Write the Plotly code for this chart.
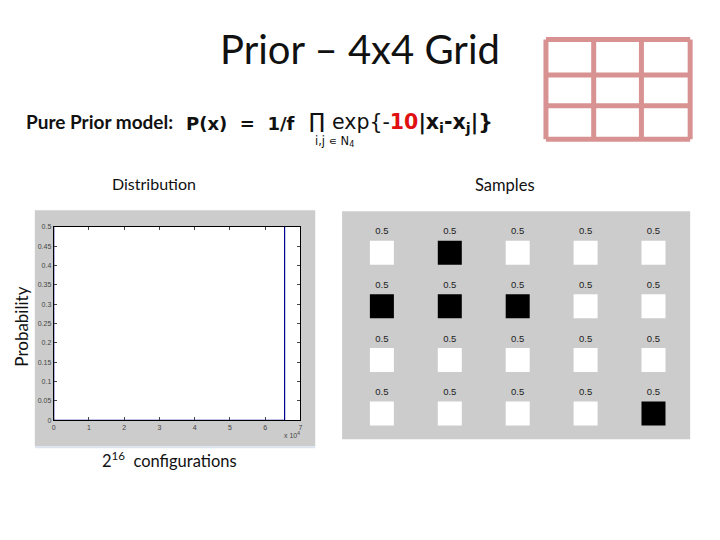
import plotly.graph_objects as go

# ---- data ----
config_index = [1, 2, 65535, 65536]          # configuration index (2^16 configs)
probability = [0.5, 0.0, 0.0, 0.5]           # probability of each configuration
x_tick_vals = [0, 10000, 20000, 30000, 40000, 50000, 60000, 70000]
x_tick_text = ["0", "1", "2", "3", "4", "5", "6", "7"]
y_tick_vals = [0, 0.05, 0.1, 0.15, 0.2, 0.25, 0.3, 0.35, 0.4, 0.45, 0.5]
y_tick_text = ["0", "0.05", "0.1", "0.15", "0.2", "0.25", "0.3", "0.35", "0.4", "0.45", "0.5"]

sample_rows = [1, 1, 1, 1, 1, 2, 2, 2, 2, 2, 3, 3, 3, 3, 3, 4, 4, 4, 4, 4]
sample_cols = [1, 2, 3, 4, 5, 1, 2, 3, 4, 5, 1, 2, 3, 4, 5, 1, 2, 3, 4, 5]
sample_vals = [0, 1, 0, 0, 0, 1, 1, 1, 0, 0, 0, 0, 0, 0, 0, 0, 0, 0, 0, 1]
sample_labels = ["0.5"] * 20

W, H = 720, 540
def px(x): return x / W
def py(y): return 1 - y / H

fig = go.Figure()

# distribution line
fig.add_trace(go.Scatter(x=config_index, y=probability, mode="lines",
                         line=dict(color="#00008f", width=1.2),
                         xaxis="x", yaxis="y", showlegend=False, hoverinfo="skip"))

# samples
fig.add_trace(go.Scatter(x=sample_cols, y=sample_rows, mode="markers+text",
                         text=sample_labels, textposition="top center",
                         textfont=dict(family="Liberation Sans, Arial", size=9.5, color="#222"),
                         marker=dict(symbol="square", size=24,
                                     color=["black" if v else "white" for v in sample_vals],
                                     line=dict(width=0)),
                         xaxis="x2", yaxis="y2", showlegend=False, hoverinfo="skip"))

tickfont = dict(family="Liberation Sans, Arial", size=7, color="#444")

shapes = []
# grey panels
shapes.append(dict(type="rect", xref="paper", yref="paper", x0=px(33), x1=px(315),
                   y0=py(448), y1=py(209), fillcolor="#cccccc", line=dict(width=0), layer="below"))
shapes.append(dict(type="line", xref="paper", yref="paper", x0=px(33), x1=px(315),
                   y0=py(449), y1=py(449), line=dict(color="#dde3ee", width=2), layer="below"))
shapes.append(dict(type="rect", xref="paper", yref="paper", x0=px(342), x1=px(692),
                   y0=py(441), y1=py(210), fillcolor="#cccccc", line=dict(width=0), layer="below"))
# white plot area
shapes.append(dict(type="rect", xref="x domain", yref="y domain", x0=0, x1=1, y0=0, y1=1,
                   fillcolor="white", line=dict(width=0), layer="below"))

# grid icon top right
grid_color = "#d89292"
vx = [547, 595, 643, 692]
hy = [36, 72, 103, 137]
for x in vx:
    shapes.append(dict(type="line", xref="paper", yref="paper", x0=px(x), x1=px(x),
                       y0=py(hy[0]), y1=py(hy[-1]), line=dict(color=grid_color, width=5)))
for y in hy:
    shapes.append(dict(type="line", xref="paper", yref="paper", x0=px(vx[0]), x1=px(vx[-1]),
                       y0=py(y), y1=py(y), line=dict(color=grid_color, width=5)))

annotations = [
    dict(text="Prior – 4x4 Grid", x=px(360), y=py(46), font=dict(family="Lato, Open Sans", size=40, color="#111")),
    dict(text="<b>Pure Prior model:</b>", x=px(98), y=py(119), font=dict(family="Lato, Open Sans", size=19, color="#111")),
    dict(text="<b>P(x)  =  1/f</b>", x=px(240), y=py(121), font=dict(family="DejaVu Sans", size=18, color="#111")),
    dict(text="∏", x=px(317), y=py(119), font=dict(family="DejaVu Sans", size=21, color="#111")),
    dict(text="exp{-<b><span style='color:#e01010'>10</span>|x<sub>i</sub>-x<sub>j</sub>|}</b>", x=px(413), y=py(121),
         font=dict(family="DejaVu Sans", size=20.5, color="#111")),
    dict(text="i,j ∊ N<sub>4</sub>", x=px(334), y=py(139), font=dict(family="DejaVu Sans", size=11.5, color="#111")),
    dict(text="Distribution", x=px(153), y=py(182), font=dict(family="Lato, Open Sans", size=16, color="#111")),
    dict(text="Samples", x=px(506), y=py(183), font=dict(family="Lato, Open Sans", size=16.5, color="#111")),
    dict(text="Probability", x=px(20), y=py(327), textangle=-90, font=dict(family="Lato, Open Sans", size=17, color="#111")),
    dict(text="2<sup>16</sup>  configurations", x=px(168), y=py(462), font=dict(family="Lato, Open Sans", size=16.5, color="#111")),
    dict(text="x 10<sup>4</sup>", x=px(292), y=py(437), font=dict(family="Liberation Sans, Arial", size=7, color="#444")),
]
for a in annotations:
    a.update(xref="paper", yref="paper", showarrow=False, xanchor="center", yanchor="middle")

fig.update_layout(
    width=W, height=H, margin=dict(l=0, r=0, t=0, b=0),
    paper_bgcolor="white", plot_bgcolor="rgba(0,0,0,0)",
    xaxis=dict(domain=[px(52), px(300)], range=[0, 70000], tickvals=x_tick_vals, ticktext=x_tick_text,
               ticks="inside", ticklen=3, mirror="ticks", showline=True, linecolor="black", linewidth=1,
               showgrid=False, zeroline=False, tickfont=tickfont, anchor="y"),
    yaxis=dict(domain=[py(421.7), py(225.7)], range=[0, 0.5], tickvals=y_tick_vals, ticktext=y_tick_text,
               ticks="inside", ticklen=3, mirror="ticks", showline=True, linecolor="black", linewidth=1,
               showgrid=False, zeroline=False, tickfont=tickfont, anchor="x"),
    xaxis2=dict(domain=[px(342), px(692)], range=[0.414, 5.54], visible=False, anchor="y2"),
    yaxis2=dict(domain=[py(441), py(210)], range=[4.48, 0.226], visible=False, anchor="x2"),
    shapes=shapes, annotations=annotations,
)

fig.write_html("out.html", config={"displayModeBar": False},
               post_script="document.body.style.margin='0';")
